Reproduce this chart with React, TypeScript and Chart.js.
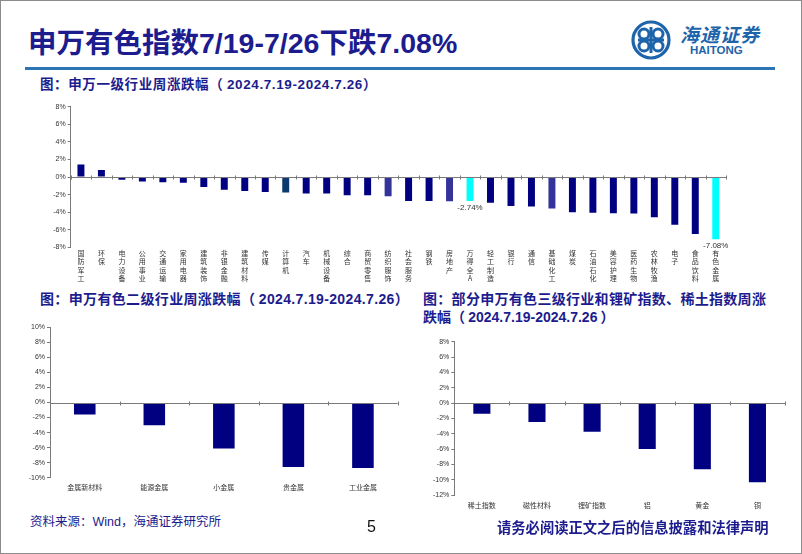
import React, { useEffect, useRef } from 'react';
import { Chart, registerables } from 'chart.js';

Chart.register(...registerables);

// ---------- DATA ----------
const industryLabels = [
  '国防军工', '环保', '电力设备', '公用事业', '交通运输', '家用电器', '建筑装饰', '非银金融',
  '建筑材料', '传媒', '计算机', '汽车', '机械设备', '综合', '商贸零售', '纺织服饰',
  '社会服务', '钢铁', '房地产', '万得全A', '轻工制造', '银行', '通信', '基础化工',
  '煤炭', '石油石化', '美容护理', '医药生物', '农林牧渔', '电子', '食品饮料', '有色金属',
];
const industryValues = [
  1.42, 0.81, -0.3, -0.5, -0.6, -0.65, -1.15, -1.46,
  -1.58, -1.7, -1.77, -1.88, -1.88, -2.08, -2.08, -2.19,
  -2.73, -2.73, -2.77, -2.74, -2.92, -3.31, -3.35, -3.58,
  -4.0, -4.08, -4.12, -4.15, -4.58, -5.42, -6.5, -7.08,
];
const industryLabelled = ['万得全A', '有色金属'];
const industryTicks = [8, 6, 4, 2, 0, -2, -4, -6, -8];

const subLabels = ['金属新材料', '能源金属', '小金属', '贵金属', '工业金属'];
const subValues = [-1.6, -3.02, -6.13, -8.58, -8.71];
const subTicks = [10, 8, 6, 4, 2, 0, -2, -4, -6, -8, -10];

const thirdLabels = ['稀土指数', '磁性材料', '锂矿指数', '铝', '黄金', '铜'];
const thirdValues = [-1.39, -2.48, -3.74, -6.0, -8.65, -10.35];
const thirdTicks = [8, 6, 4, 2, 0, -2, -4, -6, -8, -10, -12];

// ---------- STYLE ----------
const NAVY = '#000080';
const colorFor = (name: string) => {
  if (name === '万得全A' || name === '有色金属') return '#00FFFF';
  if (name === '纺织服饰' || name === '房地产' || name === '基础化工') return '#333399';
  if (name === '计算机') return '#0B3A6E';
  return NAVY;
};
const AXIS = '#7a7a7a';
const TEXT_NAVY = '#1C1C8E';
const CJK = '"Noto Sans CJK SC", "Liberation Sans", Arial, sans-serif';
const LAT = '"Liberation Sans", Arial, "Noto Sans CJK SC", sans-serif';

const zeroAxis = {
  id: 'zeroAxis',
  afterDatasetsDraw(chart: any) {
    const { ctx, chartArea, scales } = chart;
    const x = scales.x;
    const y = scales.y;
    const y0 = Math.round(y.getPixelForValue(0)) + 0.5;
    const n = chart.data.labels.length;
    const w = (chartArea.right - chartArea.left) / n;
    ctx.save();
    ctx.strokeStyle = AXIS;
    ctx.lineWidth = 1;
    ctx.beginPath();
    ctx.moveTo(chartArea.left, y0);
    ctx.lineTo(chartArea.right, y0);
    for (let i = 0; i <= n; i++) {
      const px = Math.round(x.getPixelForValue(0) - w / 2 + i * w) + 0.5;
      ctx.moveTo(px, y0 - 2);
      ctx.lineTo(px, y0 + 2);
    }
    ctx.stroke();
    ctx.restore();
  },
};

const valueLabels = {
  id: 'valueLabels',
  afterDatasetsDraw(chart: any, _args: any, opts: any) {
    if (!opts || !opts.names) return;
    const { ctx } = chart;
    const meta = chart.getDatasetMeta(0);
    ctx.save();
    ctx.font = `8px ${LAT}`;
    ctx.fillStyle = '#333';
    ctx.textAlign = 'center';
    ctx.textBaseline = 'top';
    chart.data.labels.forEach((lab: any, i: number) => {
      const name = Array.isArray(lab) ? lab.join('') : lab;
      if (opts.names.includes(name)) {
        const v = chart.data.datasets[0].data[i];
        const el = meta.data[i];
        ctx.fillText(v.toFixed(2) + '%', el.x, el.base > el.y ? el.base + 3 : el.y + 3);
      }
    });
    ctx.restore();
  },
};

interface BarProps {
  left: number; top: number; width: number; height: number;
  labels: any[]; values: number[]; colors: string[]; ticks: number[];
  yWidth: number; xHeight: number; padTop: number; padRight: number;
  barPct: number; xPad: number; labelNames?: string[]; xFontSize: number; lineHeight?: number;
}

function BarChart(p: BarProps) {
  const ref = useRef<HTMLCanvasElement>(null);
  useEffect(() => {
    if (!ref.current) return;
    const max = Math.max(...p.ticks);
    const min = Math.min(...p.ticks);
    const chart = new Chart(ref.current, {
      type: 'bar',
      data: {
        labels: p.labels,
        datasets: [{
          data: p.values,
          backgroundColor: p.colors,
          borderWidth: 0,
          categoryPercentage: 1,
          barPercentage: p.barPct,
        }],
      },
      options: {
        responsive: false,
        animation: false,
        devicePixelRatio: 1,
        layout: { padding: { top: p.padTop, right: p.padRight, left: 0, bottom: 0 } },
        plugins: {
          legend: { display: false },
          tooltip: { enabled: false },
          valueLabels: { names: p.labelNames || [] },
        } as any,
        scales: {
          x: {
            grid: { display: false, drawTicks: false },
            border: { display: false },
            ticks: {
              color: '#333',
              font: { size: p.xFontSize, family: CJK, lineHeight: p.lineHeight || 1.2 },
              maxRotation: 0,
              minRotation: 0,
              autoSkip: false,
              padding: p.xPad,
            },
            afterFit: (s: any) => { s.height = p.xHeight; },
          },
          y: {
            min, max,
            grid: { drawOnChartArea: false, drawTicks: true, tickLength: 3, color: AXIS },
            border: { display: true, color: AXIS },
            ticks: {
              stepSize: 2,
              color: '#333',
              font: { size: 7, family: LAT },
              padding: 2,
              callback: (v: any) => `${v}%`,
            },
            afterFit: (s: any) => { s.width = p.yWidth; },
          },
        },
      },
      plugins: [zeroAxis, valueLabels],
    });
    return () => chart.destroy();
  }, []);
  return (
    <canvas
      ref={ref}
      width={p.width}
      height={p.height}
      style={{ position: 'absolute', left: p.left, top: p.top, width: p.width, height: p.height }}
    />
  );
}

function Logo() {
  return (
    <div style={{ position: 'absolute', left: 626, top: 16, width: 150, height: 46 }}>
      <svg width={42} height={42} viewBox="0 0 42 42" style={{ position: 'absolute', left: 4, top: 3 }}>
        <circle cx={21} cy={21} r={18} fill="none" stroke="#1E64AA" strokeWidth={3.2} />
        <circle cx={14} cy={15} r={5} fill="none" stroke="#1E64AA" strokeWidth={3} />
        <circle cx={28} cy={15} r={5} fill="none" stroke="#1E64AA" strokeWidth={3} />
        <circle cx={14} cy={27} r={5} fill="none" stroke="#1E64AA" strokeWidth={3} />
        <circle cx={28} cy={27} r={5} fill="none" stroke="#1E64AA" strokeWidth={3} />
        <line x1={21} y1={8} x2={21} y2={34} stroke="#1E64AA" strokeWidth={3} />
        <line x1={8} y1={21} x2={34} y2={21} stroke="#1E64AA" strokeWidth={3} />
      </svg>
      <div style={{ position: 'absolute', left: 54, top: 4, fontFamily: CJK, fontSize: 19, fontStyle: 'italic', color: '#1E64AA', letterSpacing: 1, fontWeight: 700, whiteSpace: 'nowrap' }}>海通证券</div>
      <div style={{ position: 'absolute', left: 64, top: 28, fontFamily: LAT, fontSize: 11.5, fontWeight: 700, color: '#1E64AA', whiteSpace: 'nowrap' }}>HAITONG</div>
    </div>
  );
}

const txt = (s: React.CSSProperties): React.CSSProperties => ({ position: 'absolute', whiteSpace: 'nowrap', margin: 0, ...s });

export default function App() {
  const industryAxisLabels = industryLabels.map((s) => Array.from(s));
  return (
    <div style={{ position: 'absolute', left: 0, top: 0, width: 802, height: 554, background: '#fff', overflow: 'hidden' }}>
      <div style={{ position: 'absolute', left: 0, top: 0, width: 802, height: 554, border: '1px solid #8c8c8c', boxSizing: 'border-box' }} />
      <div style={txt({ left: 28, top: 24, fontFamily: LAT, fontSize: 28.5, fontWeight: 700, color: TEXT_NAVY, lineHeight: '38px' })}>
        申万有色指数7/19-7/26下跌7.08%
      </div>
      <Logo />
      <div style={{ position: 'absolute', left: 25, top: 67, width: 750, height: 3, background: '#2E75B6' }} />
      <div style={txt({ left: 40, top: 74, fontFamily: CJK, fontSize: 13.5, fontWeight: 700, color: TEXT_NAVY, lineHeight: '18px', letterSpacing: 0.6 })}>
        图：申万一级行业周涨跌幅（ <span style={{ fontFamily: LAT }}>2024.7.19-2024.7.26</span>）
      </div>

      <BarChart
        left={20} top={95} width={720} height={190}
        labels={industryAxisLabels} values={industryValues}
        colors={industryLabels.map(colorFor)} ticks={industryTicks}
        yWidth={50.7} xHeight={37.7} padTop={11.7} padRight={14}
        barPct={0.34} xPad={2} labelNames={industryLabelled} xFontSize={7} lineHeight={1.19}
      />

      <div style={txt({ left: 40, top: 289, fontFamily: CJK, fontSize: 14, fontWeight: 700, color: TEXT_NAVY, lineHeight: '18px', letterSpacing: 0.35 })}>
        图：申万有色二级行业周涨跌幅（ <span style={{ fontFamily: LAT }}>2024.7.19-2024.7.26</span>）
      </div>
      <div style={txt({ left: 423, top: 289, fontFamily: CJK, fontSize: 14, fontWeight: 700, color: TEXT_NAVY, lineHeight: '18px', letterSpacing: 0.3 })}>
        图：部分申万有色三级行业和锂矿指数、稀土指数周涨
      </div>
      <div style={txt({ left: 423, top: 307, fontFamily: CJK, fontSize: 14, fontWeight: 700, color: TEXT_NAVY, lineHeight: '18px' })}>
        跌幅（ <span style={{ fontFamily: LAT }}>2024.7.19-2024.7.26</span> ）
      </div>

      <BarChart
        left={10} top={315} width={395} height={180}
        labels={subLabels} values={subValues}
        colors={subLabels.map(() => NAVY)} ticks={subTicks}
        yWidth={40} xHeight={17.3} padTop={12.3} padRight={7.3}
        barPct={0.31} xPad={5} xFontSize={7}
      />

      <BarChart
        left={415} top={330} width={380} height={190}
        labels={thirdLabels} values={thirdValues}
        colors={thirdLabels.map(() => NAVY)} ticks={thirdTicks}
        yWidth={39.3} xHeight={25} padTop={11.7} padRight={10}
        barPct={0.31} xPad={6} xFontSize={7}
      />

      <div style={txt({ left: 30, top: 512, fontFamily: CJK, fontSize: 12.5, color: TEXT_NAVY, lineHeight: '18px' })}>
        资料来源：<span style={{ fontFamily: LAT }}>Wind</span>，海通证券研究所
      </div>
      <div style={txt({ left: 367, top: 517, fontFamily: LAT, fontSize: 16, color: '#111', lineHeight: '20px' })}>5</div>
      <div style={txt({ left: 497, top: 517, fontFamily: CJK, fontSize: 14.3, fontWeight: 700, color: TEXT_NAVY, lineHeight: '20px' })}>
        请务必阅读正文之后的信息披露和法律声明
      </div>
    </div>
  );
}
